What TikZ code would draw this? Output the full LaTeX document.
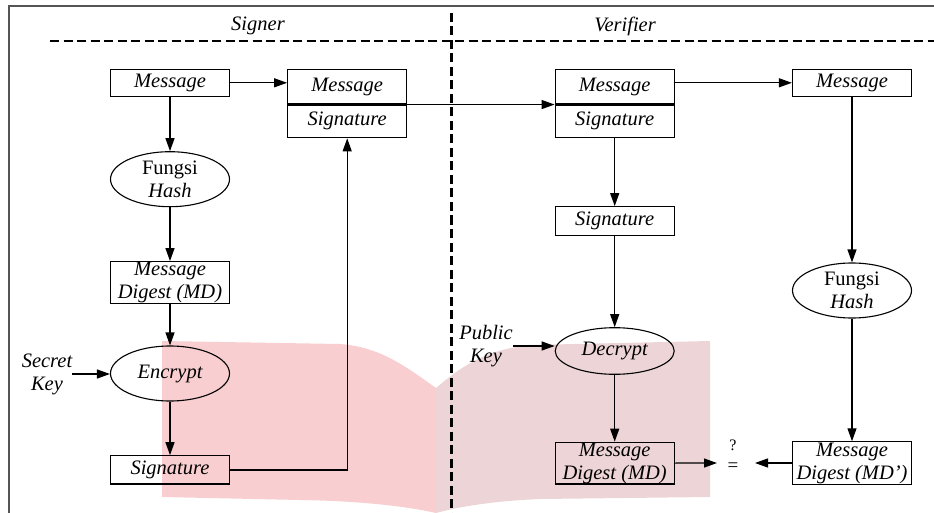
\documentclass[tikz,border=0pt]{standalone}
\usepackage{fontspec}
\setmainfont{Liberation Serif}
\usetikzlibrary{arrows.meta,shapes.geometric}
\definecolor{pinkL}{RGB}{248,206,208}
\definecolor{pinkR}{RGB}{237,212,215}
\definecolor{framegray}{RGB}{85,85,85}
\begin{document}
\begin{tikzpicture}[x=1pt,y=-1pt,
  txt/.style={font=\fontsize{20.5}{23}\selectfont\itshape},
  box/.style={draw, line width=1.2pt, minimum width=119pt, inner sep=0pt, txt, align=center},
  ell/.style={draw, ellipse, line width=1.1pt, minimum width=119pt, inner sep=0pt, txt, align=center},
  lbl/.style={txt, align=center, inner sep=0pt},
  arr/.style={line width=1.2pt, -{Triangle[length=13pt,width=9pt]}},
  dline/.style={line width=2.4pt, dash pattern=on 9pt off 4.5pt},
  thickdiv/.style={line width=2.2pt}]
\useasboundingbox (0,0) rectangle (934,513);
% watermark (book shape)
\fill[pinkL] (162,341) -- (340,344) .. controls (380,347) and (405,366) .. (436,388)
  -- (436,513) .. controls (405,506) and (360,501) .. (300,500) -- (162,497) -- cycle;
\fill[pinkR] (436,388) .. controls (462,366) and (485,350) .. (530,345) -- (710,341)
  -- (710,497) -- (540,499) .. controls (495,501) and (462,506) .. (436,513) -- cycle;
% frame
\coordinate (fb) at (9,513); \coordinate (fc) at (9,6); \coordinate (fr) at (934,6);
\draw[framegray, line width=1.3pt] (fb) -- (fc) -- (fr);
% separators
\coordinate (hl) at (50,41); \coordinate (hr) at (934,41);
\coordinate (vt) at (451.5,13); \coordinate (vb) at (451.5,513);
\draw[dline] (hl) -- (hr);
\draw[dline] (vt) -- (vb);
\node[txt] (signer) at (258,26) {Signer};
\node[txt] (verifier) at (625,26) {Verifier};
% signer
\node[box, minimum height=27pt] (sM) at (170,82.8) {Message};
\node[box, minimum height=34.5pt] (sgM) at (347.2,86.7) {Message};
\node[box, minimum height=33.7pt] (sgS) at (347.2,120.9) {Signature};
\node[ell, minimum height=55pt] (sH) at (170,179.2) {{\upshape Fungsi}\\Hash};
\node[box, minimum height=41.6pt] (sMD) at (170,282.5) {Message\\Digest (MD)};
\node[ell, minimum height=55pt] (sE) at (170,373.5) {Encrypt};
\node[box, minimum height=28.3pt] (sS) at (170,469.9) {Signature};
\node[lbl] (sk) at (47,374) {Secret\\Key};
% verifier
\node[box, minimum height=34.5pt] (vM) at (614.7,86.7) {Message};
\node[box, minimum height=33.7pt] (vS) at (614.7,120.9) {Signature};
\node[box, minimum height=27pt] (rM) at (852,82.8) {Message};
\node[box, minimum height=28.6pt] (vSig) at (614.7,221) {Signature};
\node[ell, minimum height=46.6pt] (vD) at (614.7,351) {Decrypt};
\node[lbl] (pk) at (486,346) {Public\\Key};
\node[box, minimum height=41.7pt] (vMD) at (614.7,463.1) {Message\\Digest (MD)};
\node[ell, minimum height=55pt] (rH) at (852,290.5) {{\upshape Fungsi}\\Hash};
\node[box, minimum height=42.3pt] (rMD) at (852,463) {Message\\Digest (MD’)};
\node[font=\fontsize{16}{16}\selectfont, inner sep=0pt] (q) at (733,445) {?};
\node[font=\fontsize{19}{19}\selectfont, inner sep=0pt] (eq) at (733,467) {=};
\coordinate (eqL) at (717,463);
\coordinate (eqR) at (755,463);
% connectors signer
\draw[arr] (sM) -- (sH);
\draw[arr] (sH) -- (sMD);
\draw[arr] (sMD) -- (sE);
\draw[arr] (sE) -- (sS);
\draw[arr] (sk.east) -- (sk.east -| sE.west);
\draw[arr] (sM.east) -- (sM.east -| sgM.west);
\draw[arr] (sS.east) -| (sgS.south);
\draw[thickdiv] (sgM.south west) -- (sgM.south east);
\draw[arr] (sgM.south east) -- (vM.south west);
% connectors verifier
\draw[thickdiv] (vM.south west) -- (vM.south east);
\draw[arr] (rM.west -| vM.east) -- (rM.west);
\draw[arr] (vS) -- (vSig);
\draw[arr] (vSig) -- (vD);
\draw[arr] (pk.east) -- (pk.east -| vD.west);
\draw[arr] (vD) -- (vMD);
\draw[arr] (rM) -- (rH);
\draw[arr] (rH) -- (rMD);
\draw[arr] (vMD.east) -- (eqL);
\draw[arr] (rMD.west) -- (eqR);
\end{tikzpicture}
\end{document}
